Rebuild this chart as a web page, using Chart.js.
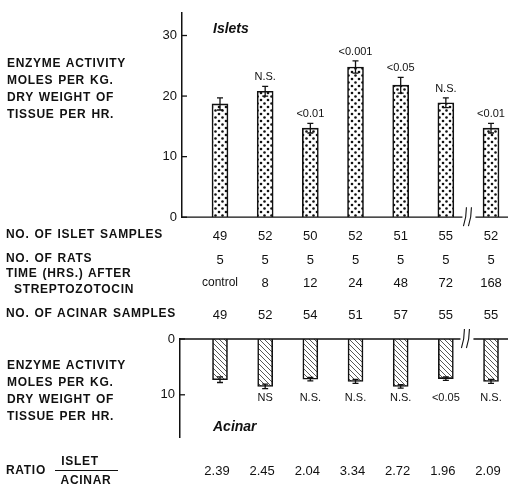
<!DOCTYPE html>
<html>
<head>
<meta charset="utf-8">
<script src="https://cdn.jsdelivr.net/npm/chart.js@4.4.1/dist/chart.umd.min.js"></script>
<style>
body { margin: 0; background: #fff; }
#page { position: relative; width: 508px; height: 489px; overflow: hidden; font-family: 'Liberation Sans', Arial, sans-serif; color: #111; }
.box { position: absolute; left: 0; width: 508px; }
.t { position: absolute; white-space: nowrap; line-height: 1; }
.lbl { font-weight: bold; font-size: 12px; letter-spacing: 0.7px; word-spacing: 1px; }
.blk { position: absolute; left: 7px; white-space: nowrap; line-height: 17px; }
.val { font-size: 13px; }
.ttl { font-weight: bold; font-style: italic; font-size: 14px; }
</style>
</head>
<body>
<div id="page">
  <div class="box" style="top:0;height:230px"><canvas id="islets"></canvas></div>
  <div class="box" style="top:320px;height:130px"><canvas id="acinar"></canvas></div>
</div>
<script>
// data
var categories = ['control', '8', '12', '24', '48', '72', '168'];
var isletActivity = [18.7, 20.8, 14.7, 24.8, 21.8, 18.9, 14.7];
var isletError = [1.0, 0.8, 0.8, 1.0, 1.3, 0.8, 0.8];
var isletP = ['', 'N.S.', '<0.01', '<0.001', '<0.05', 'N.S.', '<0.01'];
var acinarActivity = [7.3, 8.5, 7.2, 7.6, 8.5, 7.1, 7.6];
var acinarError = [0.5, 0.4, 0.3, 0.35, 0.3, 0.3, 0.35];
var acinarP = ['', 'NS', 'N.S.', 'N.S.', 'N.S.', '<0.05', 'N.S.'];
var isletSamples = ['49', '52', '50', '52', '51', '55', '52'];
var ratCount = ['5', '5', '5', '5', '5', '5', '5'];
var acinarSamples = ['49', '52', '54', '51', '57', '55', '55'];
var ratio = ['2.39', '2.45', '2.04', '3.34', '2.72', '1.96', '2.09'];
var isletTicks = [0, 10, 20, 30];
var acinarTicks = [0, 10];

Chart.defaults.font.family = "'Liberation Sans', Arial, sans-serif";
Chart.defaults.color = '#111';

function dotPattern() {
    var c = document.createElement('canvas');
    c.width = 7; c.height = 7;
    var g = c.getContext('2d');
    g.fillStyle = '#fff';
    g.fillRect(0, 0, 7, 7);
    g.fillStyle = '#111';
    [[2, 2], [5.5, 5.5]].forEach(function(p) {
        g.beginPath();
        g.arc(p[0], p[1], 1.3, 0, Math.PI * 2);
        g.fill();
    });
    return g.createPattern(c, 'repeat');
}

function hatchPattern() {
    var c = document.createElement('canvas');
    c.width = 5; c.height = 5;
    var g = c.getContext('2d');
    g.fillStyle = '#fff';
    g.fillRect(0, 0, 5, 5);
    g.strokeStyle = '#444';
    g.lineWidth = 0.9;
    g.beginPath();
    g.moveTo(-1, -1); g.lineTo(6, 6);
    g.moveTo(-1, 4); g.lineTo(1, 6);
    g.moveTo(4, -1); g.lineTo(6, 1);
    g.stroke();
    return g.createPattern(c, 'repeat');
}

// ticks pointing inward, baseline with a break, error bars and p labels
function decor(o) {
    return {
        id: 'decor',
        afterDatasetsDraw: function(chart) {
            var ctx = chart.ctx, xs = chart.scales.x, ys = chart.scales.y, area = chart.chartArea;
            ctx.save();
            ctx.strokeStyle = '#111';
            ctx.lineWidth = 1.3;
            o.ticks.forEach(function(v) {
                var py = ys.getPixelForValue(v);
                ctx.beginPath();
                ctx.moveTo(area.left, py);
                ctx.lineTo(area.left + 5, py);
                ctx.stroke();
            });
            var y0 = ys.getPixelForValue(0);
            var bx = xs.getPixelForValue(6.5) + o.breakShift;
            ctx.beginPath();
            ctx.moveTo(area.left, y0); ctx.lineTo(bx - 6, y0);
            ctx.moveTo(bx + 7, y0); ctx.lineTo(area.right, y0);
            ctx.stroke();
            // the "//" break mark
            ctx.lineWidth = 1.1;
            [-3, 2].forEach(function(d) {
                ctx.beginPath();
                ctx.moveTo(bx + d - 2, y0 + 9);
                ctx.quadraticCurveTo(bx + d + 1, y0, bx + d + 1, y0 - 10);
                ctx.stroke();
            });
            // error bars
            ctx.lineWidth = 1.3;
            o.values.forEach(function(v, i) {
                var px = xs.getPixelForValue(i + 1);
                var a = ys.getPixelForValue(v - o.errors[i]);
                var b = ys.getPixelForValue(v + o.errors[i]);
                ctx.beginPath();
                ctx.moveTo(px, a); ctx.lineTo(px, b);
                ctx.moveTo(px - 3, a); ctx.lineTo(px + 3, a);
                ctx.moveTo(px - 3, b); ctx.lineTo(px + 3, b);
                ctx.stroke();
            });
            ctx.fillStyle = '#111';
            ctx.font = "11px 'Liberation Sans', Arial, sans-serif";
            ctx.textAlign = 'center';
            ctx.textBaseline = 'middle';
            o.labels.forEach(function(t, i) {
                if (!t) return;
                var px = xs.getPixelForValue(i + 1);
                var py = o.labelY(ys, i);
                ctx.fillText(t, px, py);
            });
            ctx.restore();
        }
    };
}

var step = 45.17;   // px between bar centres
function xScale(left) {
    var min = 1 - (220 - left) / step;
    return {
        type: 'linear', display: false, offset: false,
        min: min, max: min + (508 - left) / step
    };
}

function yScale(max, reverse, ticks, width) {
    return {
        min: 0, max: max, reverse: reverse,
        afterFit: function(s) { s.width = width; },
        afterBuildTicks: function(s) { s.ticks = ticks.map(function(v) { return { value: v }; }); },
        grid: { display: false, drawTicks: false },
        border: { display: true, color: '#111', width: 1.5 },
        ticks: { color: '#111', font: { size: 13 }, padding: 5 }
    };
}

var isletChart = new Chart(document.getElementById('islets'), {
    type: 'bar',
    data: {
        datasets: [{
            data: isletActivity.map(function(v, i) { return { x: i + 1, y: v }; }),
            backgroundColor: dotPattern(),
            borderColor: '#111',
            borderWidth: 1.6,
            barThickness: 16
        }]
    },
    options: {
        responsive: true,
        maintainAspectRatio: false,
        animation: false,
        events: [],
        layout: { padding: { top: 12, bottom: 11, left: 0, right: 0 } },
        plugins: { legend: { display: false }, tooltip: { enabled: false } },
        scales: { x: xScale(182), y: yScale(33.75, false, isletTicks, 182) }
    },
    plugins: [decor({
        ticks: isletTicks, values: isletActivity, errors: isletError, labels: isletP, breakShift: 0,
        labelY: function(ys, i) { return ys.getPixelForValue(isletActivity[i] + isletError[i]) - 9; }
    })]
});

var acinarChart = new Chart(document.getElementById('acinar'), {
    type: 'bar',
    data: {
        datasets: [{
            data: acinarActivity.map(function(v, i) { return { x: i + 1, y: v }; }),
            backgroundColor: hatchPattern(),
            borderColor: '#111',
            borderWidth: 1.6,
            barThickness: 15
        }]
    },
    options: {
        responsive: true,
        maintainAspectRatio: false,
        animation: false,
        events: [],
        layout: { padding: { top: 19, bottom: 7, left: 0, right: 0 } },
        plugins: { legend: { display: false }, tooltip: { enabled: false } },
        scales: { x: xScale(180), y: yScale(17.6, true, acinarTicks, 180) }
    },
    plugins: [decor({
        ticks: acinarTicks, values: acinarActivity, errors: acinarError, labels: acinarP, breakShift: -2,
        labelY: function(ys, i) { return ys.getPixelForValue(10.6); }
    })]
});

// text around the charts
var page = document.getElementById('page');
function put(text, x, y, cls, align) {
    var d = document.createElement('div');
    d.className = 't ' + (cls || '');
    d.textContent = text;
    d.style.left = x + 'px';
    d.style.top = y + 'px';
    var tx = align === 'left' ? '0' : '-50%';
    d.style.transform = 'translate(' + tx + ', -50%)';
    page.appendChild(d);
    return d;
}
function block(lines, top) {
    var d = document.createElement('div');
    d.className = 'blk lbl';
    d.style.top = top + 'px';
    d.innerHTML = lines.join('<br>');
    page.appendChild(d);
}

block(['ENZYME ACTIVITY', 'MOLES PER KG.', 'DRY WEIGHT OF', 'TISSUE PER HR.'], 55);
block(['ENZYME ACTIVITY', 'MOLES PER KG.', 'DRY WEIGHT OF', 'TISSUE PER HR.'], 357);

put('Islets', 213, 28, 'ttl', 'left');
put('Acinar', 213, 426, 'ttl', 'left');

put('NO. OF ISLET SAMPLES', 6, 234, 'lbl', 'left');
put('NO. OF RATS', 6, 258, 'lbl', 'left');
put('TIME (HRS.) AFTER', 6, 273, 'lbl', 'left');
put('STREPTOZOTOCIN', 14, 289, 'lbl', 'left');
put('NO. OF ACINAR SAMPLES', 6, 313, 'lbl', 'left');

var xs = isletChart.scales.x;
categories.forEach(function(c, i) {
    var cx = xs.getPixelForValue(i + 1);
    put(isletSamples[i], cx, 235, 'val');
    put(ratCount[i], cx, 259, 'val');
    put(c, cx, 282, 'val', 'center').style.fontSize = (i === 0 ? '12px' : '13px');
    put(acinarSamples[i], cx, 314, 'val');
    put(ratio[i], cx - 3, 470, 'val');
});

put('RATIO', 6, 470, 'lbl', 'left');
put('ISLET', 80, 461, 'lbl');
put('ACINAR', 86, 480, 'lbl');
var bar = document.createElement('div');
bar.style.cssText = 'position:absolute;left:55px;top:470px;width:63px;height:0;border-top:1.2px solid #111;';
page.appendChild(bar);
</script>
</body>
</html>
